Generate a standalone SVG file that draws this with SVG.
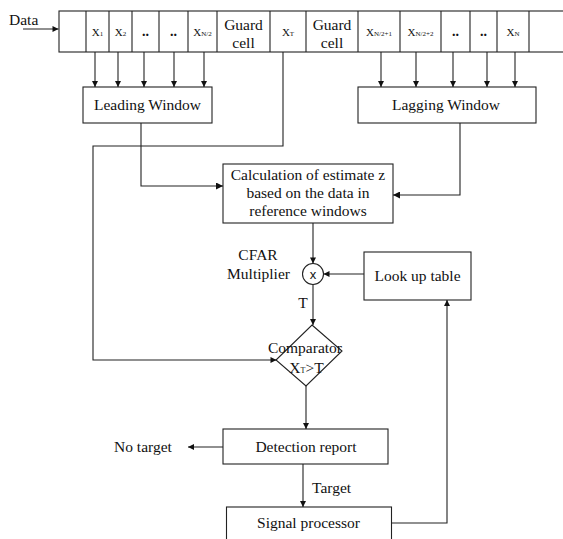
<svg xmlns="http://www.w3.org/2000/svg" width="563" height="539" viewBox="0 0 563 539">
<style>
text{font-family:"Liberation Serif","Times New Roman",serif;font-size:15.5px;fill:#111}
.c{text-anchor:middle}
.cx{font-size:11px;text-anchor:middle}
.sub{font-size:7px}
.dots{font-size:14px;font-weight:bold;text-anchor:middle}
.box{fill:#fff;stroke:#222;stroke-width:1.1}
.ln{fill:none;stroke:#222;stroke-width:1.1}
</style>
<defs>
<marker id="a" viewBox="0 0 10 10" refX="10" refY="5" markerWidth="7" markerHeight="6" markerUnits="userSpaceOnUse" orient="auto"><path d="M0,0 L10,5 L0,10 z" fill="#111"/></marker>
<marker id="b" viewBox="0 0 10 10" refX="10" refY="5" markerWidth="14" markerHeight="7" markerUnits="userSpaceOnUse" orient="auto"><path d="M0,0 L10,5 L0,10 z" fill="#111"/></marker>
</defs>
<rect width="563" height="539" fill="#fff"/>

<g id="data-row">
<rect class="box" x="59" y="11" width="520" height="41"/>
<path class="ln" d="M86,11V52M109,11V52M132,11V52M159,11V52M188,11V52M217,11V52M270,11V52M306,11V52M358,11V52M400,11V52M441,11V52M470,11V52M497,11V52M529,11V52"/>
<text class="cx" x="97.5" y="36">X<tspan class="sub">1</tspan></text>
<text class="cx" x="120.5" y="36">X<tspan class="sub">2</tspan></text>
<text class="dots" x="145.5" y="36">..</text>
<text class="dots" x="173.5" y="36">..</text>
<text class="cx" x="202.5" y="36">X<tspan class="sub">N/2</tspan></text>
<text class="c" x="243.5" y="30">Guard</text>
<text class="c" x="243.5" y="48">cell</text>
<text class="cx" x="288" y="36">X<tspan class="sub">T</tspan></text>
<text class="c" x="332" y="30">Guard</text>
<text class="c" x="332" y="48">cell</text>
<text class="cx" x="379" y="36">X<tspan class="sub">N/2+1</tspan></text>
<text class="cx" x="420.5" y="36">X<tspan class="sub">N/2+2</tspan></text>
<text class="dots" x="455.5" y="36">..</text>
<text class="dots" x="483.5" y="36">..</text>
<text class="cx" x="513" y="36">X<tspan class="sub">N</tspan></text>
</g>

<g id="data-label"><text x="9" y="25">Data</text></g>

<g id="leading-window">
<rect class="box" x="83" y="87" width="129" height="36"/>
<text class="c" x="147.5" y="110">Leading Window</text>
</g>

<g id="lagging-window">
<rect class="box" x="358" y="87" width="178" height="36"/>
<text class="c" x="446" y="110">Lagging Window</text>
</g>

<g id="calculation">
<rect class="box" x="223" y="164" width="170" height="59"/>
<text class="c" x="308" y="180">Calculation of estimate z</text>
<text class="c" x="308" y="198">based on the data in</text>
<text class="c" x="308" y="216">reference windows</text>
</g>

<g id="multiplier">
<circle class="box" cx="313" cy="274" r="10.5"/>
<text x="313" y="278.5" style="font-family:'Liberation Sans',Arial,sans-serif;font-size:13px;text-anchor:middle">x</text>
<text class="c" x="258" y="260">CFAR</text>
<text class="c" x="258.5" y="279">Multiplier</text>
</g>

<g id="lookup-table">
<rect class="box" x="364" y="252" width="107" height="48"/>
<text class="c" x="417.5" y="281">Look up table</text>
</g>

<g id="comparator">
<polygon class="box" points="312,325 342,351 306,386 276,360"/>
<text class="c" x="305" y="353">Comparator</text>
<text class="c" x="306.5" y="373">X<tspan style="font-size:8px">T</tspan>&gt;T</text>
</g>

<g id="detection-report">
<rect class="box" x="223" y="429" width="165" height="35"/>
<text class="c" x="306" y="452">Detection report</text>
</g>

<g id="signal-processor">
<rect class="box" x="226.5" y="507" width="165" height="40"/>
<text class="c" x="308.5" y="528">Signal processor</text>
</g>

<g id="no-target-label"><text x="114" y="452">No target</text></g>

<g id="connectors">
<path class="ln" d="M23,29H58.5" marker-end="url(#a)"/>
<path class="ln" d="M95,52V87" marker-end="url(#a)"/>
<path class="ln" d="M118,52V87" marker-end="url(#a)"/>
<path class="ln" d="M144,52V87" marker-end="url(#a)"/>
<path class="ln" d="M174,52V87" marker-end="url(#a)"/>
<path class="ln" d="M204,52V87" marker-end="url(#a)"/>
<path class="ln" d="M381,52V87" marker-end="url(#a)"/>
<path class="ln" d="M416,52V87" marker-end="url(#a)"/>
<path class="ln" d="M453,52V87" marker-end="url(#a)"/>
<path class="ln" d="M487,52V87" marker-end="url(#a)"/>
<path class="ln" d="M515,52V87" marker-end="url(#a)"/>
<path class="ln" d="M141,123V186H223" marker-end="url(#b)"/>
<path class="ln" d="M460,123V195H393" marker-end="url(#b)"/>
<path class="ln" d="M283,52V146H93V360H276.5" marker-end="url(#a)"/>
<path class="ln" d="M313,223V263.5" marker-end="url(#a)"/>
<path class="ln" d="M364,274H323.5" marker-end="url(#a)"/>
<path class="ln" d="M313,284.5V325" marker-end="url(#a)"/>
<text x="303" y="308" class="c">T</text>
<path class="ln" d="M306,386V429" marker-end="url(#a)"/>
<path class="ln" d="M223,447H188" marker-end="url(#a)"/>
<path class="ln" d="M303,464V507" marker-end="url(#a)"/>
<text x="312" y="493">Target</text>
<path class="ln" d="M391.5,523H447V300" marker-end="url(#a)"/>
</g>
</svg>
